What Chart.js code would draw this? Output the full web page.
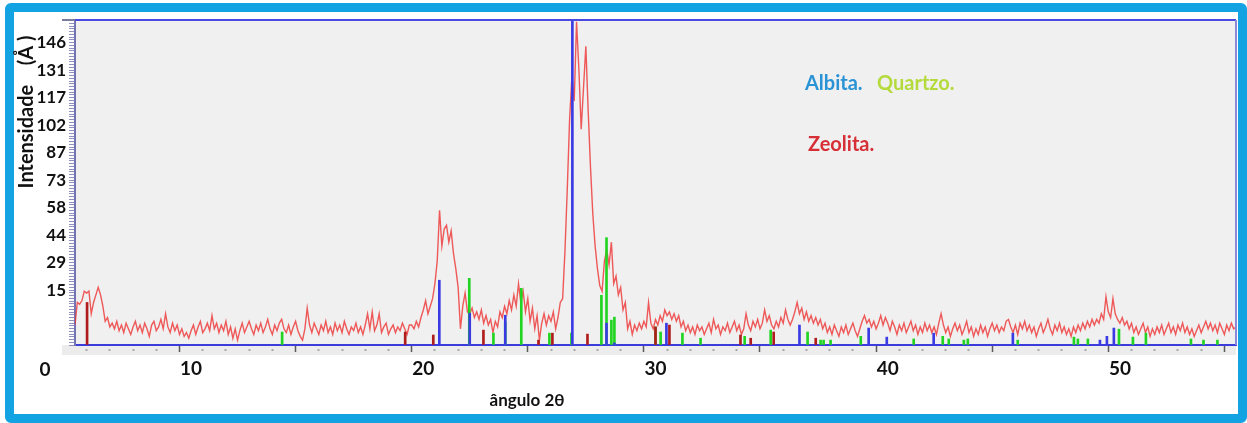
<!DOCTYPE html>
<html>
<head>
<meta charset="utf-8">
<script src="https://cdn.jsdelivr.net/npm/chart.js@4.4.0/dist/chart.umd.min.js"></script>
<style>
  html, body { margin: 0; padding: 0; background: #fff; }
  .frame {
    position: absolute; left: 5px; top: 3px; width: 1242px; height: 420px;
    box-sizing: border-box; border: 9px solid #13a3e3; border-radius: 6px;
  }
  .wrap { position: absolute; left: 0; top: 0; width: 1247px; height: 423px; }
</style>
</head>
<body>
<div class="frame"></div>
<div class="wrap"><canvas id="xrd" width="1247" height="423"></canvas></div>
<script>
// scan: 5 to 55 deg, one reading every 0.1 deg
const angleStart = 5;
const angleStep = 0.1;
const intensity = [
  -4, 8, 7, 9, 14, 13, 14, 2, 8, 12,
  16, 12, 6, -2, 0, -5, -3, -6, -2, -7,
  -4, -8, -3, -6, -9, -5, -2, -7, -4, -8,
  -3, -6, -10, -4, -2, -7, -5, -1, -6, 2,
  -5, -8, -3, -7, -4, -9, -6, -10, -8, -11,
  -7, -4, -9, -5, -2, -8, -6, -3, -7, 1,
  -6, -3, -8, -4, -7, -2, -9, -5, -11, -6,
  -12, -7, -3, -8, -5, -2, -6, -9, -4, -7,
  -3, -8, -5, -1, -6, -9, -4, -7, -3, -1,
  -6, -8, -4, -9, -5, -2, -7, -10, -12, -6,
  5, -4, -8, -3, -6, -9, -4, -7, -2, -8,
  -5, -9, -3, -7, -4, -8, -2, -6, -9, -5,
  -7, -3, -8, -5, -9, -4, 2, -6, 3, -7,
  -4, 2, -8, -5, -3, -9, -6, -4, -8, -5,
  -7, -3, -6, -9, -4, -4, -6, -2, -5, 0,
  4, 9, 2, 6, 10, 18, 30, 57, 38, 47,
  49, 40, 46, 34, 26, 16, -6, 6, 13, 3,
  2, 5, 0, 3, -1, 4, -3, 1, -4, -1,
  -8, -2, -5, 3, 0, 6, 2, 9, 4, 12,
  6, 18, 8, 14, 3, 10, -2, 5, -6, 1,
  -12, -3, 2, -4, 1, -2, 3, -6, 0, 8,
  10, 35, 68, 105, 128, 115, 157, 132, 100, 122,
  144, 110, 80, 55, 38, 26, 17, 14, 30, 36,
  28, 40, 18, 22, 12, 16, 4, 8, -6, -2,
  -9, -4, -7, -3, -6, -2, -5, 8, -3, -6,
  -1, -4, 1, -2, 4, 1, 3, -1, 2, -2,
  1, -5, -2, -7, -4, -8, -5, -9, -4, -7,
  -5, -9, -6, -3, -8, -1, -6, -4, -9, -5,
  -7, -3, -8, -5, -2, -7, -4, -9, -6, 2,
  -4, -7, -2, -5, -1, -6, -3, 4, -2, 1,
  -4, -6, -2, -5, 0, -3, 4, -1, -4, -1,
  3, 8, 2, 5, -1, 3, -2, 1, -3, 0,
  -4, -1, -6, -3, -8, -5, -9, -4, -7, -10,
  -5, -8, -4, -9, -6, -3, -7, -10, -6, -2,
  1, -3, -1, -5, -2, -6, -3, 1, -4, 0,
  -3, -7, -2, -5, -9, -4, -7, -3, -8, -5,
  -2, -7, -4, -9, -5, -8, -3, -7, -4, -8,
  -5, -9, -3, 2, -4, -8, -5, -10, -6, -3,
  -7, -4, -9, -6, -2, -8, -5, -10, -6, -9,
  -4, -8, -5, -10, -6, -3, -7, -4, -8, -5,
  -7, -2, -1, -5, -8, -4, -9, -3, -6, -2,
  -7, -4, -8, -5, -10, -6, -3, -8, -5, -1,
  -6, -9, -4, -7, -3, -8, -5, -9, -6, -10,
  -5, -8, -4, -7, -3, -6, -2, -5, -1, -4,
  -1, -3, 2, -1, 11, 3, 0, 10, 2, -1,
  -3, 0, -4, -2, -6, -3, -8, -5, -9, -6,
  -3, -8, -5, -10, -6, -9, -5, -8, -4, -9,
  -6, -3, -8, -5, -9, -4, -7, -3, -8, -5,
  -9, -6, -10, -7, -4, -8, -5, -2, -6, -3,
  -7, -4, -8, -3, -6, -9, -4, -7, -3, -6,
  -5
];

// reference patterns (stick lines)
const albitaAngles = [20.69, 22.0, 23.53, 26.42, 27.89, 28.23, 30.47, 36.2, 39.18, 39.96, 41.98, 45.39, 49.14, 49.44, 49.74];
const albitaHeights = [19.8, 2.3, 1.2, 158, -3, -13.5, -3, -4, -5.6, -10.4, -8.3, -8.3, -12, -10, -5.6];

const quartzoAngles = [13.92, 21.98, 23.02, 23.53, 24.22, 25.43, 26.38, 27.67, 27.89, 28.1, 28.23, 30.0, 30.22, 31.16, 31.94, 33.84, 34.96, 36.55, 37.11, 37.24, 37.54, 38.84, 41.12, 42.37, 42.63, 43.28, 43.45, 45.6, 48.02, 48.19, 48.62, 49.96, 50.56, 51.12, 53.06, 53.6, 54.2];
const quartzoHeights = [-7.7, 20.8, -8.3, -2.4, 15.5, -8.3, -8.3, 11.8, 42.4, -1.4, 0.2, -5, -7.7, -8.3, -11, -10, -6.7, -7.7, -12, -12, -12, -10, -11.4, -10, -11.4, -12, -11.4, -12, -10.4, -11.4, -11.4, -6.2, -10.4, -8.3, -11.4, -12, -12];

const zeolitaAngles = [5.52, 19.22, 20.43, 22.59, 24.96, 25.56, 27.07, 30.0, 30.6, 33.66, 34.1, 35.09, 36.9];
const zeolitaHeights = [8, -7.7, -9.3, -6.7, -12, -8.3, -8.8, -5, -4, -9.3, -11, -7.7, -11];

const xTickLabels = ["0", "10", "20", "30", "40", "50"];
const yTickValues = [14.6, 29.2, 43.8, 58.4, 73, 87.6, 102.2, 116.8, 131.4, 146];
const yTickLabels = ["15", "29", "44", "58", "73", "87", "102", "117", "131", "146"];

const xMin = 5, xMax = 55;
const yMin = -14.6, yMax = 158;
const FONT = "Lato";

const toPoints = (xs, ys) => xs.map((x, i) => ({ x: x, y: ys[i] }));
const scan = intensity.map((v, i) => ({ x: angleStart + i * angleStep, y: v }));

function sticks(label, xs, ys, color, order) {
  return {
    type: "bar",
    label: label,
    data: toPoints(xs, ys),
    backgroundColor: color,
    borderWidth: 0,
    barThickness: 2,
    grouped: false,
    base: yMin,
    order: order,
  };
}

// background, frame and free text
const decor = {
  id: "decor",
  beforeDraw(chart) {
    const { ctx, chartArea: a } = chart;
    ctx.save();
    ctx.fillStyle = "#ececec";
    ctx.fillRect(a.left - 13, a.bottom, a.right - a.left + 13, 10);
    ctx.fillStyle = "#f0f0f0";
    ctx.fillRect(a.left, a.top, a.right - a.left, a.bottom - a.top);
    ctx.restore();
  },
  afterDraw(chart) {
    const { ctx, chartArea: a } = chart;
    ctx.save();
    // top + right frame
    ctx.lineWidth = 2;
    ctx.strokeStyle = "#7c7c9c";
    ctx.beginPath();
    ctx.moveTo(a.left - 13, a.top);
    ctx.lineTo(a.left, a.top);
    ctx.stroke();
    ctx.strokeStyle = "#4a4ae0";
    ctx.beginPath();
    ctx.moveTo(a.left, a.top);
    ctx.lineTo(a.right, a.top);
    ctx.stroke();
    ctx.strokeStyle = "#8a8ad8";
    ctx.beginPath();
    ctx.moveTo(a.right, a.top);
    ctx.lineTo(a.right, a.bottom);
    ctx.stroke();

    // legend words
    ctx.textBaseline = "middle";
    ctx.textAlign = "left";
    ctx.font = "bold 20px " + FONT;
    ctx.fillStyle = "#2993d5";
    ctx.fillText("Albita.", 805, 84);
    ctx.fillStyle = "#b4da3c";
    ctx.fillText("Quartzo.", 877, 84);
    ctx.fillStyle = "#d62f36";
    ctx.fillText("Zeolita.", 808, 145);

    // "0" left of the x axis
    ctx.fillStyle = "#111";
    ctx.textAlign = "center";
    ctx.font = "bold 19px " + FONT;
    ctx.fillText(xTickLabels[0], 45, 370);

    // axis titles
    ctx.font = "bold 17px " + FONT;
    ctx.fillText("ângulo 2θ", 527, 401);
    ctx.translate(27, 112);
    ctx.rotate(-Math.PI / 2);
    ctx.font = "bold 20px " + FONT;
    ctx.fillText("Intensidade    (Å )", 0, 0);
    ctx.restore();
  },
};

new Chart(document.getElementById("xrd"), {
  type: "line",
  data: {
    datasets: [
      {
        label: "amostra",
        data: scan,
        borderColor: "rgba(238, 50, 50, 0.8)",
        borderWidth: 1.4,
        pointRadius: 0,
        tension: 0,
        order: 4,
      },
      sticks("Quartzo", quartzoAngles, quartzoHeights, "#22d422", 3),
      sticks("Zeolita", zeolitaAngles, zeolitaHeights, "#b01c1c", 2),
      sticks("Albita", albitaAngles, albitaHeights, "#3b3be4", 1),
    ],
  },
  options: {
    responsive: false,
    animation: false,
    layout: { padding: { left: 15, top: 20, right: 11, bottom: 0 } },
    plugins: { legend: { display: false }, tooltip: { enabled: false } },
    scales: {
      x: {
        type: "linear",
        min: xMin,
        max: xMax,
        offset: false,
        afterFit: (s) => { s.height = 78; },
        afterBuildTicks: (s) => {
          const t = [];
          for (let v = xMin; v <= xMax; v++) t.push({ value: v });
          s.ticks = t;
        },
        border: { color: "#3c3cdc", width: 2 },
        grid: {
          drawOnChartArea: false,
          tickLength: 7,
          tickWidth: (c) => (c.tick && c.tick.value % 5 === 0 ? 1.5 : 2),
          tickColor: (c) => (c.tick && c.tick.value % 5 === 0 ? "#5a5a5a" : "#a8a8a8"),
          tickBorderDash: (c) => (c.tick && c.tick.value % 5 === 0 ? [] : [0, 3, 2, 20]),
        },
        ticks: {
          autoSkip: false,
          maxRotation: 0,
          padding: 5,
          color: "#111",
          font: { family: FONT, size: 19, weight: "bold" },
          callback: (v) => (xTickLabels.includes(String(v)) ? String(v) : ""),
        },
      },
      y: {
        min: yMin,
        max: yMax,
        afterFit: (s) => { s.width = 60; },
        afterBuildTicks: (s) => {
          const t = [];
          for (let k = -10; k * 1.46 <= yMax; k++) t.push({ value: k * 1.46 });
          s.ticks = t;
        },
        border: { color: "#7474b4", width: 2 },
        grid: { drawOnChartArea: false, tickLength: 6, color: "#9090c0" },
        ticks: {
          autoSkip: false,
          padding: 3,
          color: "#111",
          font: { family: FONT, size: 17, weight: "bold" },
          callback: (v) => {
            const i = yTickValues.findIndex((t) => Math.abs(t - v) < 0.05);
            return i < 0 ? "" : yTickLabels[i];
          },
        },
      },
    },
  },
  plugins: [decor],
});
</script>
</body>
</html>
